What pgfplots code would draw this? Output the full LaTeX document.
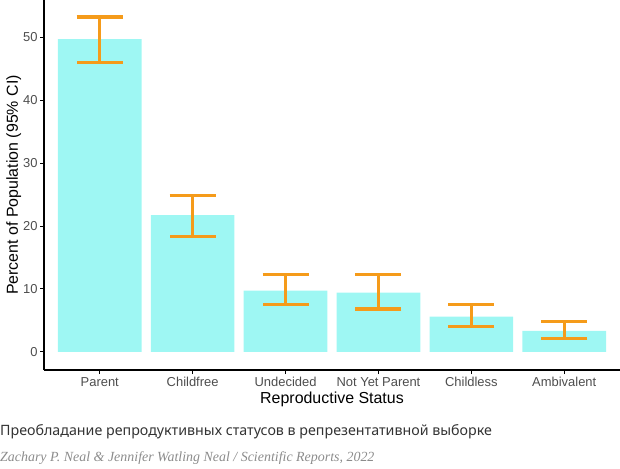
\documentclass[border=0pt]{standalone}
\usepackage{fontspec}
\setmainfont{Liberation Sans}
\newfontfamily\capfont{Noto Sans}
\newfontfamily\credfont{Liberation Serif}
\usepackage{pgfplots}
\pgfplotsset{compat=1.18}
\usepackage{pgfplotstable}
\definecolor{barc}{HTML}{9EF7F3}
\definecolor{errc}{HTML}{F59B1A}
\definecolor{tickc}{HTML}{4D4D4D}
\pgfplotstableread{
x y ep em
0 49.7 3.5 3.7
1 21.7 3.1 3.4
2 9.7 2.6 2.2
3 9.4 2.9 2.6
4 5.6 1.9 1.6
5 3.3 1.5 1.2
}\datatable
\begin{document}
\begin{tikzpicture}
\useasboundingbox (-44bp,-99bp) rectangle (576bp,370bp);
\begin{axis}[
  scale only axis,
  width=576bp, height=370bp,
  xmin=-0.6, xmax=5.6,
  ymin=-2.9, ymax=55.9,
  axis x line*=bottom, axis y line*=left,
  axis line style={black, line width=1.1bp, -},
  xtick={0,1,2,3,4,5},
  xticklabels={Parent,Childfree,Undecided,Not Yet Parent,Childless,Ambivalent},
  ytick={0,10,20,30,40,50},
  tick align=outside,
  major tick length=4bp,
  tick style={black, line width=0.8bp},
  ticklabel style={font=\fontsize{13}{15}\selectfont, text=tickc},
  yticklabel style={xshift=1bp},
  /pgf/number format/assume math mode=true,
  xlabel={Reproductive Status},
  ylabel={Percent of Population (95\% CI)},
  label style={font=\fontsize{16}{18}\selectfont},
  xlabel style={yshift=2bp},
  ylabel style={yshift=-5bp},
  clip=false,
]
\addplot[ybar, bar width=0.9, fill=barc, draw=none,
  error bars/.cd, y dir=both, y explicit,
  error mark=|,
  error bar style={errc, line width=3.3bp},
  error mark options={errc, line width=3.3bp, mark size=23bp}]
  table[x=x, y=y, y error plus=ep, y error minus=em] {\datatable};
\end{axis}
\node[anchor=west, inner sep=0pt, text=black!80, font=\capfont\fontsize{14.3}{17}\selectfont] at (-44bp,-62bp) {Преобладание репродуктивных статусов в репрезентативной выборке};
\node[anchor=west, inner sep=0pt, text=black!45, font=\credfont\itshape\fontsize{14}{16}\selectfont] at (-44bp,-88bp) {Zachary P. Neal \& Jennifer Watling Neal / Scientific Reports, 2022};
\end{tikzpicture}
\end{document}
